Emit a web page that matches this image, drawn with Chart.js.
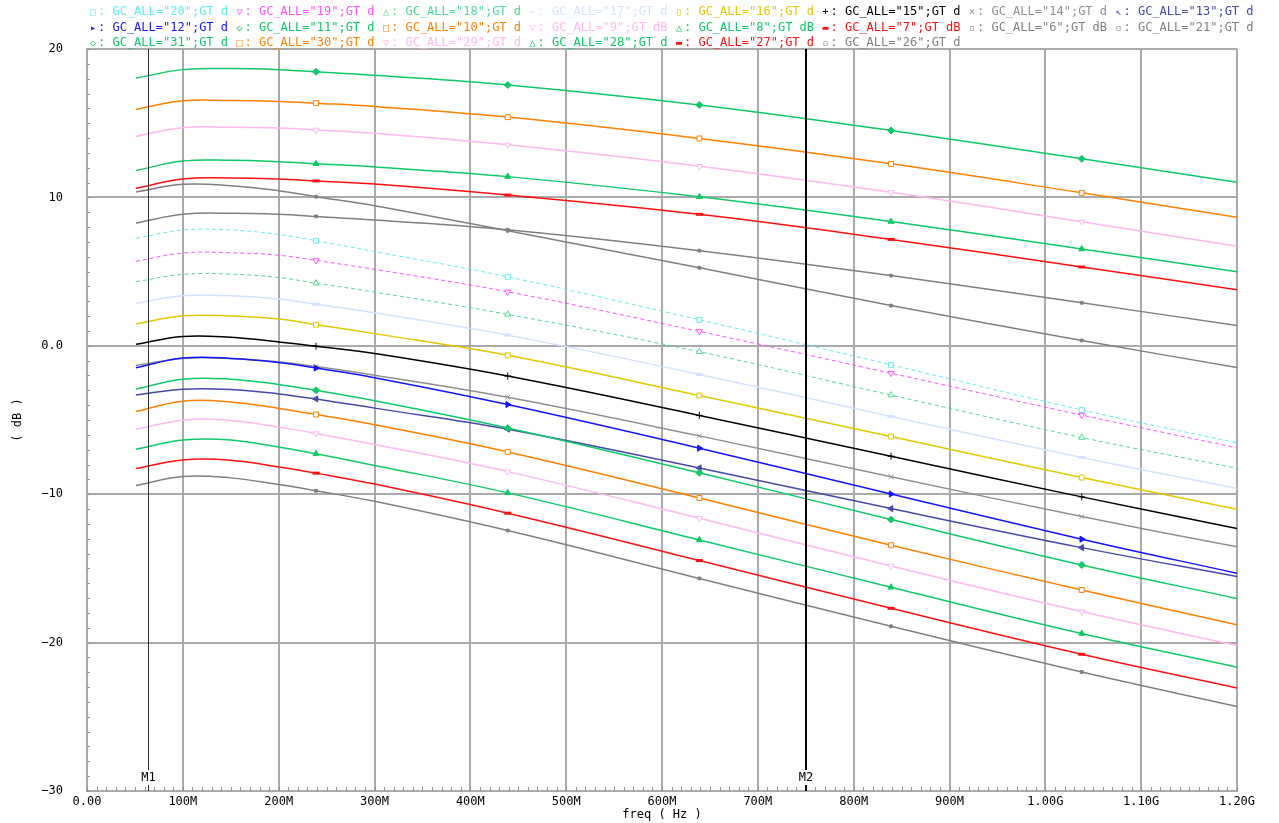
<!DOCTYPE html>
<html>
<head>
<meta charset="utf-8">
<title>GC_ALL gain vs freq</title>
<script src="https://cdn.jsdelivr.net/npm/chart.js@4.4.1/dist/chart.umd.min.js"></script>
<style>
  body { margin: 0; background: #fff; }
  #wrap { position: relative; width: 1279px; height: 823px; }
  #legend { position: absolute; left: 0; top: 0; width: 1279px; height: 48px;
            font: 12px "DejaVu Sans Mono", monospace; white-space: nowrap; }
  .item { position: absolute; line-height: 14px; }
  .mk { display: inline-block; width: 10px; text-align: center; font-size: 10px; }
</style>
</head>
<body>
<div id="wrap">
  <canvas id="chart"></canvas>
  <div id="legend"></div>
</div>
<script>
// sample frequencies (MHz); markers sit on 239, 439, 639, 839, 1038
const freqMHz = [51, 100, 150, 200, 239, 300, 439, 639, 839, 1038, 1200];
const markerIdx = [4, 6, 7, 8, 9];

// gain in dB per GC_ALL setting
const gc31 = [18.04, 18.61, 18.68, 18.61, 18.47, 18.23, 17.58, 16.23, 14.51, 12.60, 11.02];
const gc30 = [15.93, 16.51, 16.53, 16.47, 16.35, 16.13, 15.41, 13.97, 12.26, 10.31, 8.67];
const gc29 = [14.11, 14.69, 14.73, 14.68, 14.55, 14.32, 13.54, 12.10, 10.34, 8.36, 6.70];
const gc28 = [11.81, 12.45, 12.50, 12.41, 12.27, 12.05, 11.40, 10.04, 8.37, 6.52, 4.99];
const gc27 = [10.61, 11.24, 11.31, 11.24, 11.11, 10.90, 10.16, 8.86, 7.17, 5.31, 3.78];
const gc26 = [8.27, 8.86, 8.93, 8.86, 8.72, 8.48, 7.82, 6.41, 4.73, 2.90, 1.36];
const gc21 = [10.37, 10.88, 10.79, 10.45, 10.05, 9.44, 7.75, 5.26, 2.71, 0.36, -1.47];
const gc20 = [7.24, 7.80, 7.80, 7.50, 7.08, 6.35, 4.65, 1.75, -1.28, -4.32, -6.54];
const gc19 = [5.69, 6.25, 6.27, 6.10, 5.75, 5.15, 3.64, 0.97, -1.85, -4.67, -6.88];
const gc18 = [4.32, 4.81, 4.83, 4.60, 4.22, 3.62, 2.12, -0.40, -3.32, -6.18, -8.25];
const gc17 = [2.86, 3.37, 3.37, 3.16, 2.80, 2.22, 0.72, -1.93, -4.76, -7.53, -9.62];
const gc16 = [1.48, 2.02, 2.00, 1.80, 1.42, 0.82, -0.64, -3.35, -6.11, -8.88, -11.01];
const gc15 = [0.10, 0.63, 0.57, 0.26, -0.03, -0.52, -2.04, -4.69, -7.44, -10.18, -12.31];
const gc14 = [-1.32, -0.85, -0.85, -1.08, -1.40, -1.98, -3.47, -6.07, -8.82, -11.51, -13.55];
const gc12 = [-1.48, -0.83, -0.85, -1.12, -1.50, -2.15, -3.96, -6.90, -9.99, -13.03, -15.33];
const gc11 = [-2.92, -2.25, -2.25, -2.60, -3.00, -3.70, -5.54, -8.56, -11.71, -14.77, -17.03];
const gc13 = [-3.32, -2.92, -2.94, -3.24, -3.58, -4.20, -5.62, -8.23, -10.97, -13.60, -15.55];
const gc10 = [-4.43, -3.73, -3.78, -4.22, -4.63, -5.32, -7.15, -10.25, -13.44, -16.45, -18.79];
const gc9 = [-5.62, -5.01, -5.03, -5.48, -5.91, -6.65, -8.48, -11.62, -14.84, -17.91, -20.20];
const gc8 = [-6.97, -6.35, -6.34, -6.82, -7.28, -8.06, -9.91, -13.08, -16.27, -19.39, -21.66];
const gc7 = [-8.27, -7.69, -7.71, -8.16, -8.58, -9.32, -11.28, -14.47, -17.69, -20.79, -23.06];
const gc6 = [-9.42, -8.81, -8.90, -9.35, -9.77, -10.48, -12.45, -15.68, -18.90, -21.98, -24.30];

const legendRows = [
  ["20", "19", "18", "17", "16", "15", "14", "13"],
  ["12", "11", "10", "9", "8", "7", "6", "21"],
  ["31", "30", "29", "28", "27", "26"],
];
const markerFreqMHz = [63.6, 750];
const markerNames = ["M1", "M2"];

const green = "#10c868", orange = "#ff8000", pink = "#ffb8f0", red = "#ff1010", gray = "#808080";

// name -> values + look
const series = {
  "31": { v: gc31, color: green, pt: "rectRot", fill: true, sym: "◇" },
  "30": { v: gc30, color: orange, pt: "rect", sym: "□" },
  "29": { v: gc29, color: pink, pt: "triangle", rot: 180, sym: "▽" },
  "28": { v: gc28, color: green, pt: "triangle", fill: true, sym: "△" },
  "27": { v: gc27, color: red, pt: "line", w: 3, sym: "▬" },
  "26": { v: gc26, color: gray, pt: "rect", r: 2, fill: true, sym: "▫" },
  "21": { v: gc21, color: gray, pt: "rect", r: 2, fill: true, sym: "▫" },
  "20": { v: gc20, color: "#60eeee", pt: "rect", dash: true, sym: "□" },
  "19": { v: gc19, color: "#ff50ff", pt: "triangle", rot: 180, dash: true, sym: "▽" },
  "18": { v: gc18, color: "#50d898", pt: "triangle", dash: true, sym: "△" },
  "17": { v: gc17, color: "#d4e2ff", pt: "line", w: 3, sym: "⇐" },
  "16": { v: gc16, color: "#e0c800", pt: "rect", sym: "▯" },
  "15": { v: gc15, color: "#000000", pt: "cross", sym: "+" },
  "14": { v: gc14, color: "#909090", pt: "crossRot", sym: "×" },
  "12": { v: gc12, color: "#1414ff", pt: "triangle", rot: 90, fill: true, sym: "▸" },
  "11": { v: gc11, color: green, pt: "rectRot", fill: true, sym: "◇" },
  "13": { v: gc13, color: "#4848a8", pt: "triangle", rot: 270, fill: true, sym: "↖" },
  "10": { v: gc10, color: orange, pt: "rect", sym: "□" },
  "9": { v: gc9, color: pink, pt: "triangle", rot: 180, sym: "▽" },
  "8": { v: gc8, color: green, pt: "triangle", fill: true, sym: "△" },
  "7": { v: gc7, color: red, pt: "line", w: 3, sym: "▬" },
  "6": { v: gc6, color: gray, pt: "rect", r: 2, fill: true, sym: "▫" },
};

const datasets = Object.keys(series).map((name) => {
  const s = series[name];
  const r = s.r || 3.5;
  return {
    label: 'GC_ALL="' + name + '"',
    data: freqMHz.map((f, i) => ({ x: f, y: s.v[i] })),
    borderColor: s.color,
    borderWidth: s.dash ? 1 : 1.5,
    borderDash: s.dash ? [4, 3] : [],
    pointStyle: s.pt,
    pointRotation: s.rot || 0,
    pointRadius: (ctx) => (markerIdx.includes(ctx.dataIndex) ? r : 0),
    pointBorderColor: s.color,
    pointBackgroundColor: s.fill ? s.color : "#ffffff",
    pointBorderWidth: s.w || 1,
    tension: 0.4,
    fill: false,
  };
});

// legend as html text
const legend = document.getElementById("legend");
legendRows.forEach((row, r) => {
  row.forEach((name, c) => {
    const s = series[name];
    const tail = ["9", "8", "7", "6"].includes(name) ? "GT dB" : "GT d";
    const el = document.createElement("div");
    el.className = "item";
    el.style.left = 88 + c * 146.5 + "px";
    el.style.top = 4 + r * 15.5 + "px";
    el.style.color = s.color;
    el.innerHTML = '<span class="mk">' + s.sym + "</span>: " +
      'GC_ALL="' + name + '";' + tail;
    legend.appendChild(el);
  });
});

const overlay = {
  id: "overlay",
  beforeDatasetsDraw(chart) {
    const { ctx, chartArea: a, scales } = chart;
    ctx.save();
    ctx.strokeStyle = "#909090";
    ctx.lineWidth = 1;
    ctx.beginPath();
    for (let v = -30; v <= 20; v++) {
      const y = Math.round(scales.y.getPixelForValue(v)) + 0.5;
      ctx.moveTo(a.left, y);
      ctx.lineTo(a.left + 3, y);
    }
    for (let f = 0; f <= 1200; f += 10) {
      const x = Math.round(scales.x.getPixelForValue(f)) + 0.5;
      ctx.moveTo(x, a.bottom);
      ctx.lineTo(x, a.bottom - 4);
    }
    ctx.stroke();
    ctx.restore();
  },
  afterDatasetsDraw(chart) {
    const { ctx, chartArea: a, scales } = chart;
    ctx.save();
    markerFreqMHz.forEach((f, i) => {
      const x = Math.round(scales.x.getPixelForValue(f)) + (i ? 0 : 0.5);
      ctx.strokeStyle = i ? "#000000" : "#303030";
      ctx.lineWidth = i ? 2 : 1;
      ctx.beginPath();
      ctx.moveTo(x, a.top);
      ctx.lineTo(x, a.bottom - 21);
      ctx.moveTo(x, a.bottom - 6);
      ctx.lineTo(x, a.bottom);
      ctx.stroke();
      ctx.fillStyle = "#000000";
      ctx.font = '12px "DejaVu Sans Mono"';
      ctx.textAlign = "center";
      ctx.textBaseline = "middle";
      ctx.fillText(markerNames[i], x, a.bottom - 13);
    });
    ctx.restore();
  },
};

Chart.defaults.font.family = '"DejaVu Sans Mono", monospace';
Chart.defaults.font.size = 12;
Chart.defaults.color = "#000000";

new Chart(document.getElementById("chart"), {
  type: "line",
  data: { datasets },
  options: {
    responsive: true,
    maintainAspectRatio: false,
    animation: false,
    layout: { padding: { top: 49, right: 42, bottom: 0, left: 0 } },
    plugins: { legend: { display: false }, tooltip: { enabled: false } },
    scales: {
      x: {
        type: "linear",
        min: 0,
        max: 1200,
        afterFit: (scale) => { scale.height = 32; },
        ticks: {
          stepSize: 100,
          padding: 4,
          maxRotation: 0,
          callback: (v) => (v === 0 ? "0.00" : v < 1000 ? v + "M" : (v / 1000).toFixed(2) + "G"),
        },
        grid: { color: "#aaaaaa", lineWidth: 2, drawTicks: false },
        border: { color: "#aaaaaa", width: 2 },
        title: { display: true, text: "freq ( Hz )", padding: { top: 0, bottom: 1 } },
      },
      y: {
        min: -30,
        max: 20,
        afterFit: (scale) => { scale.width = 87; },
        ticks: {
          stepSize: 10,
          padding: 24,
          callback: (v) => (v === 0 ? "0.0" : v < 0 ? "\u2212" + -v : String(v)),
        },
        grid: { color: "#aaaaaa", lineWidth: 2, drawTicks: false },
        border: { color: "#aaaaaa", width: 2 },
        title: { display: true, text: "( dB )", padding: { top: 11, bottom: 0 } },
      },
    },
  },
  plugins: [overlay],
});
</script>
</body>
</html>
